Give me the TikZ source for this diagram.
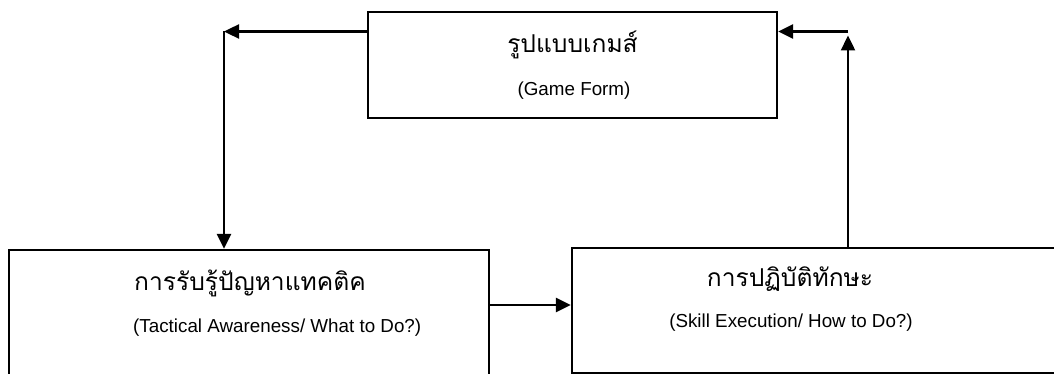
\documentclass[tikz,border=0pt]{standalone}
\usepackage{fontspec}
\setmainfont{Liberation Sans}
\newfontfamily\thaifont[Script=Thai]{Loma}
\usetikzlibrary{arrows.meta,calc}
\begin{document}
\begin{tikzpicture}[x=1pt,y=-1pt,
  box/.style={draw,line width=2.3pt,inner sep=0pt},
  conn/.style={line width=2.4pt,-{Triangle[length=15pt,width=14pt]}},
  thtext/.style={inner sep=0pt,font=\thaifont\fontsize{24.6}{30}\selectfont},
  entext/.style={inner sep=0pt,font=\fontsize{18.8}{22}\selectfont}]
\useasboundingbox (0,0) rectangle (1054,374);
\clip (0,0) rectangle (1054,374);
\fill[white] (0,0) rectangle (1054,374);
% boxes
\node[box,minimum width=409pt,minimum height=106pt] (top) at (572.5,65) {};
\node[box,minimum width=480pt,minimum height=140pt] (left) at (249,320) {};
\node[box,minimum width=510pt,minimum height=125pt] (right) at (827,310.5) {};
% texts
\node[thtext] (t1) at (572.5,45) {รูปแบบเกมส์};
\node[entext] (e1) at (574,91) {(Game Form)};
\node[thtext] (t2) at (250,283) {การรับรู้ปัญหาแทคติค};
\node[entext,anchor=west] (e2) at (133,328) {(Tactical Awareness/ What to Do?)};
\node[thtext] (t3) at (790,279) {การปฏิบัติทักษะ};
\node[entext] (e3) at (791,323) {(Skill Execution/ How to Do?)};
% connector corners
\coordinate (c1) at (224,31.5);
\coordinate (c2) at (848,31.5);
\coordinate (c3) at (848,35.5);
\draw[conn] (top.west |- c1) -- (c1);
\draw[conn] (c1) -- (c1 |- left.north);
\draw[conn] (left.east |- 0,305) -- (right.west |- 0,305);
\draw[conn] (c3 |- right.north) -- (c3);
\draw[conn] (c2) -- (top.east |- c2);
\end{tikzpicture}
\end{document}
